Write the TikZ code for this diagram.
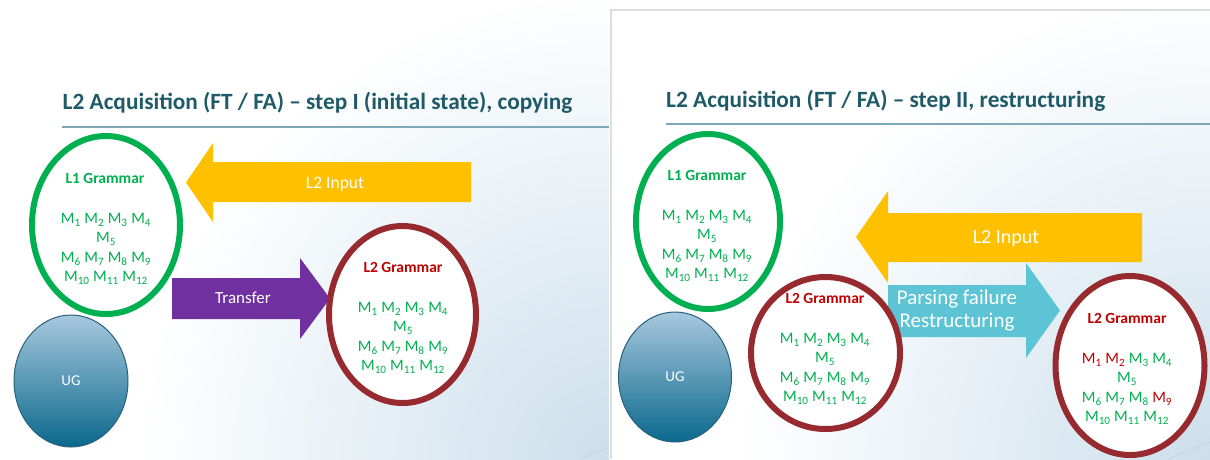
\documentclass[tikz,border=0pt]{standalone}
\usepackage{fontspec}
\setmainfont{Carlito}
\usetikzlibrary{shapes.geometric}

\definecolor{titleteal}{RGB}{30,90,104}
\definecolor{rulegray}{RGB}{126,168,182}
\definecolor{mgreen}{RGB}{0,176,80}
\definecolor{gramred}{RGB}{150,42,46}
\definecolor{labred}{RGB}{192,0,0}
\definecolor{inputgold}{RGB}{255,192,0}
\definecolor{transpurple}{RGB}{112,48,160}
\definecolor{parsecyan}{RGB}{92,196,212}
\definecolor{ugtop}{RGB}{168,200,222}
\definecolor{ugbottom}{RGB}{10,104,140}
\definecolor{ugline}{RGB}{40,96,125}
\definecolor{slideblue}{RGB}{204,223,236}
\definecolor{slideedge}{RGB}{221,221,221}

\newcommand{\msub}[1]{M\textsubscript{#1}}
\newcommand{\mgreenlist}{\msub{1} \msub{2} \msub{3} \msub{4}\\ \msub{5}\\ \msub{6} \msub{7} \msub{8} \msub{9}\\ \msub{10} \msub{11} \msub{12}}

\tikzset{
  gram/.style={ellipse, draw, line width=6pt, fill=white, inner sep=0pt},
  ug/.style={ellipse, draw=ugline, line width=1pt, top color=ugtop, bottom color=ugbottom, inner sep=0pt, text=white, font=\fontsize{15}{18}\selectfont},
  gramname/.style={anchor=base, inner sep=0pt, font=\bfseries\fontsize{15.5}{18}\selectfont},
  mlist/.style={anchor=north, inner sep=0pt, align=center, text=mgreen, font=\fontsize{16}{19.5}\selectfont},
  arrowlabel/.style={inner sep=0pt, text=white},
  slidetitle/.style={anchor=base west, inner sep=0pt, text=titleteal, font=\bfseries\fontsize{23.3}{28}\selectfont},
  slideback/.style={inner color=slideblue, outer color=white}
}

\begin{document}
\begin{tikzpicture}[x=1pt, y=-1pt]
\useasboundingbox (0,0) rectangle (1210,459);

% the two slides
\fill[white] (0,0) rectangle (1210,459);
\begin{scope}
\clip (0,0) rectangle (609,459);
\shade[slideback] (609,459) circle (470);
\end{scope}
\begin{scope}
\clip (611,10) rectangle (1210,459);
\shade[slideback] (1210,459) circle (470);
\end{scope}
\draw[slideedge, line width=1.5pt] (611,459) -- (611,10) -- (1210,10);
\draw[rulegray!45, line width=0.8pt] (580,459) -- (609,447);
\draw[rulegray!45, line width=0.8pt] (1168,459) -- (1210,442);

\node[slidetitle] (titleleft) at (62.5,109.5) {L2 Acquisition (FT / FA) – step I (initial state), copying};
\node[slidetitle] (titleright) at (666,107.5) {L2 Acquisition (FT / FA) – step II, restructuring};
\draw[rulegray, line width=2pt] (62,127) -- (609,127);
\draw[rulegray, line width=2pt] (666,123.5) -- (1210,123.5);

% step I
\fill[inputgold] (471,162) -- (213,162) -- (213,143) -- (186,182.5) -- (213,222) -- (213,202) -- (471,202) -- cycle;
\node[arrowlabel, anchor=base, font=\fontsize{17.5}{21}\selectfont] (inputleft) at (335,188) {L2 Input};
\fill[transpurple] (172,278) -- (300,278) -- (300,258) -- (330,298.5) -- (300,339) -- (300,319) -- (172,319) -- cycle;
\node[arrowlabel, font=\fontsize{17}{20}\selectfont] (transfer) at (243,298) {Transfer};

\node[gram, draw=mgreen, minimum width=148pt, minimum height=178pt] (l1left) at (106,225) {};
\node[gram, draw=gramred, minimum width=147pt, minimum height=177pt] (l2left) at (402.5,314.5) {};
\node[ug, minimum width=114pt, minimum height=132pt] (ugleft) at (71,381) {UG};

\node[gramname, text=mgreen] (l1nameleft) at (105,183) {L1 Grammar};
\node[mlist] (l1listleft) at (106,213) {\mgreenlist};
\node[gramname, text=labred] (l2nameleft) at (403,272) {L2 Grammar};
\node[mlist] (l2listleft) at (403,302) {\mgreenlist};

% step II
\fill[inputgold] (1142,213) -- (888,213) -- (888,191) -- (856,237) -- (888,283) -- (888,262) -- (1142,262) -- cycle;
\node[arrowlabel, anchor=base, font=\fontsize{20}{24}\selectfont] (inputright) at (1006,243) {L2 Input};
\fill[parsecyan] (888,285) -- (1026,285) -- (1026,263) -- (1060,310.5) -- (1026,358) -- (1026,337) -- (888,337) -- cycle;
\node[arrowlabel, anchor=north, align=center, font=\fontsize{21}{23}\selectfont] (parsing) at (957,289.5) {Parsing failure\\Restructuring};

\node[gram, draw=mgreen, minimum width=144pt, minimum height=175pt] (l1right) at (708,221.5) {};
\node[gram, draw=gramred, minimum width=149pt, minimum height=152pt] (l2mid) at (825.5,353) {};
\node[gram, draw=gramred, minimum width=149pt, minimum height=179pt] (l2right) at (1130,365.5) {};
\node[ug, minimum width=113pt, minimum height=130pt] (ugright) at (675,377) {UG};

\node[gramname, text=mgreen] (l1nameright) at (707,180) {L1 Grammar};
\node[mlist] (l1listright) at (707,210) {\mgreenlist};
\node[gramname, text=labred] (l2namemid) at (825,303) {L2 Grammar};
\node[mlist] (l2listmid) at (825,333) {\mgreenlist};
\node[gramname, text=labred] (l2nameright) at (1127,323) {L2 Grammar};
\node[mlist] (l2listright) at (1127,353) {\textcolor{labred}{\msub{1}} \textcolor{labred}{\msub{2}} \msub{3} \msub{4}\\ \msub{5}\\ \msub{6} \msub{7} \msub{8} \textcolor{labred}{\msub{9}}\\ \msub{10} \msub{11} \msub{12}};

\end{tikzpicture}
\end{document}
